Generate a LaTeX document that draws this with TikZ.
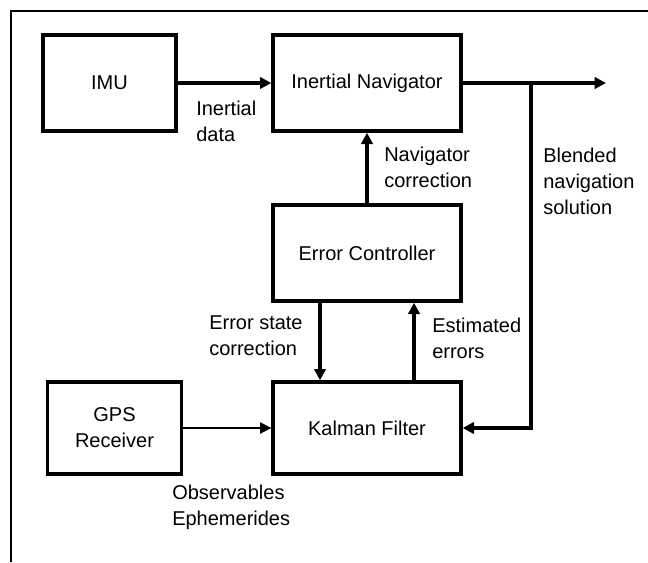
\documentclass[tikz,border=0pt]{standalone}
\usepackage{fontspec}
\setmainfont{Liberation Sans}
\usetikzlibrary{arrows.meta}
\begin{document}
\begin{tikzpicture}[x=0.75pt,y=-0.75pt,
  font=\fontsize{15}{19.5}\selectfont,
  blk/.style={draw,line width=2.5pt,minimum width=188*0.75pt,minimum height=96*0.75pt,inner sep=0pt,align=center},
  lbl/.style={anchor=west,align=left,inner sep=0pt},
  conn/.style={line width=2.4pt,-{Triangle[length=8.5pt,width=8.5pt]}},
  thinconn/.style={line width=1.1pt,-{Triangle[length=8.5pt,width=8.5pt]}},
  plain/.style={line width=2.4pt}]
\useasboundingbox (0,0) rectangle (648,562);
\draw[line width=1.6pt] (11,562) -- (11,11) -- (648,11);

\node[blk,minimum width=133*0.75pt] (imu) at (109.5,83) {IMU};
\node[blk] (nav) at (367,83) {Inertial Navigator};
\node[blk] (ec) at (367,253) {Error Controller};
\node[blk,minimum height=92*0.75pt] (kf) at (367,428) {Kalman Filter};
\node[blk,minimum width=134*0.75pt,minimum height=92*0.75pt] (gps) at (114.5,428) {GPS\\Receiver};

\coordinate (out) at (606,83);
\coordinate (br) at (531,83);
\coordinate (brd) at (531,428);

\draw[conn] (imu.east) -- (nav.west);
\draw[conn] (nav.east) -- (out);
\draw[conn] (br) -- (brd) -- (kf.east);
\draw[conn] (ec.north) -- (nav.south);
\draw[conn] ([xshift=-47*0.75pt]ec.south) -- ([xshift=-47*0.75pt]kf.north);
\draw[conn] ([xshift=47*0.75pt]kf.north) -- ([xshift=47*0.75pt]ec.south);
\draw[thinconn] (gps.east) -- (kf.west);

\node[lbl] (l1) at (196,121) {Inertial\\data};
\node[lbl] (l2) at (384,167) {Navigator\\correction};
\node[lbl] (l3) at (543,181) {Blended\\navigation\\solution};
\node[lbl] (l4) at (209,336) {Error state\\correction};
\node[lbl] (l5) at (432,338) {Estimated\\errors};
\node[lbl] (l6) at (172,507) {Observables\\Ephemerides};
\end{tikzpicture}
\end{document}
